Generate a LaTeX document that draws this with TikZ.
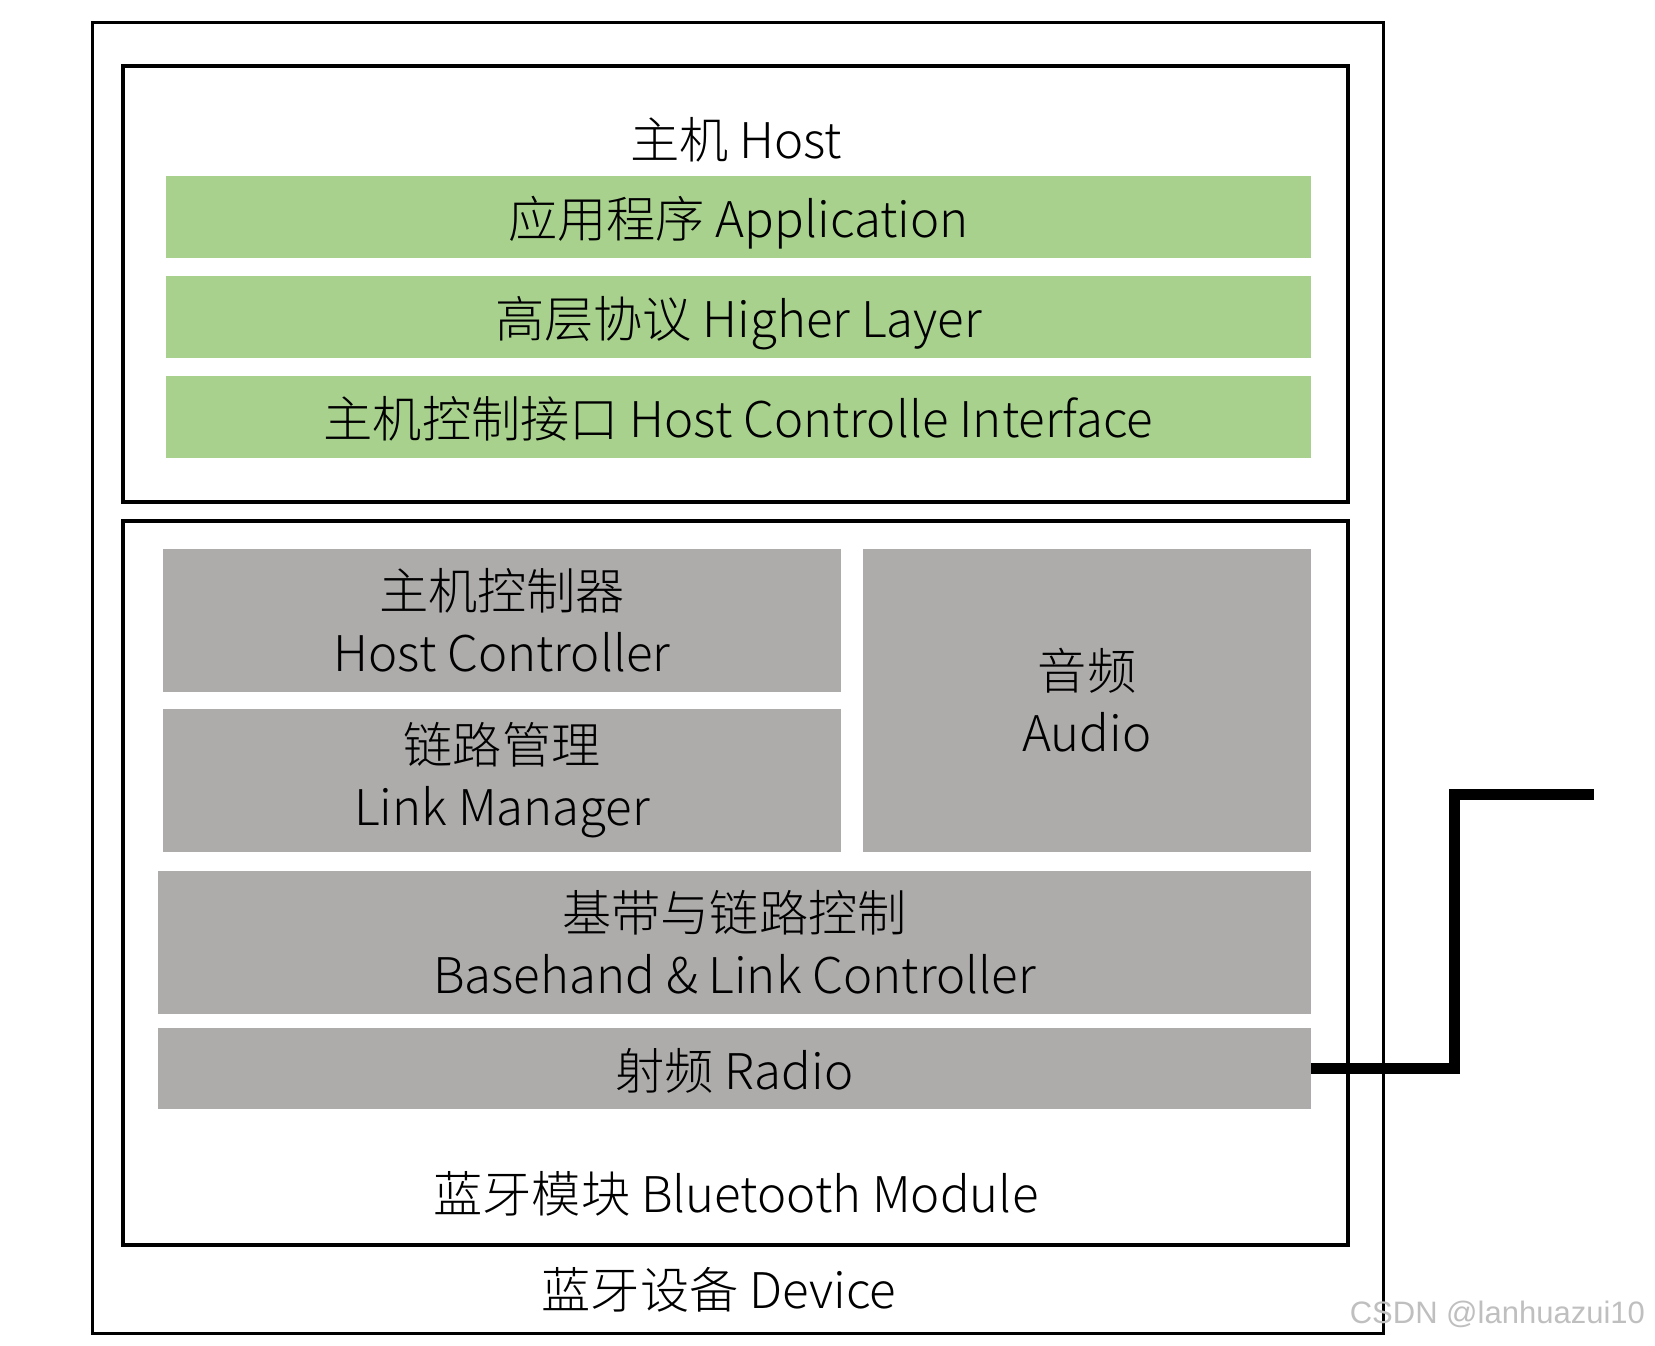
\documentclass[tikz,border=0pt]{standalone}
\usepackage{fontspec}
\setmainfont{Noto Sans CJK SC}[UprightFont=* Light]
\newfontfamily\wmfont{Liberation Sans}
\usepackage{tikz}

\definecolor{hostgreen}{HTML}{A9D18E}
\definecolor{modgray}{HTML}{AEABAB}

\tikzset{
  layer/.style={fill=#1, inner sep=0pt, align=center, font=\fontsize{24.6}{31}\selectfont},
  oneline/.style={text depth=0pt},
  frame/.style={draw, line width=1.6pt},
  lbl/.style={font=\fontsize{24.6}{31}\selectfont},
  antenna/.style={line width=5.5pt, line join=miter}
}

\begin{document}
\begin{tikzpicture}[x=0.5pt,y=-0.5pt]
  \useasboundingbox (0,0) rectangle (1655,1345);
  \draw[line width=1.5pt] (92,22) rectangle (1383,1333);
  \draw[frame] (123,66) rectangle (1348,502);
  \draw[frame] (123,521) rectangle (1348,1245);

  \node[lbl] (host) at (736,140) {主机 Host};
  \node[layer=hostgreen, oneline, minimum width=572.5pt, minimum height=41pt] (app) at (738.5,217) {应用程序 Application};
  \node[layer=hostgreen, oneline, minimum width=572.5pt, minimum height=41pt] (higher) at (738.5,317) {高层协议 Higher Layer};
  \node[layer=hostgreen, oneline, minimum width=572.5pt, minimum height=41pt] (hci) at (738.5,417) {主机控制接口 Host Controlle Interface};

  \node[layer=modgray, minimum width=339pt, minimum height=71.5pt] (hc) at (502,620.5) {主机控制器\\Host Controller};
  \node[layer=modgray, minimum width=339pt, minimum height=71.5pt] (lm) at (502,780) {链路管理\\Link Manager};
  \node[layer=modgray, minimum width=224pt, minimum height=151.5pt] (audio) at (1087,700.5) {音频\\Audio};
  \node[layer=modgray, minimum width=576.5pt, minimum height=71.5pt] (bb) at (734.5,942.5) {基带与链路控制\\Basehand \& Link Controller};
  \node[layer=modgray, oneline, minimum width=576.5pt, minimum height=40.5pt] (radio) at (734.5,1068.5) {射频 Radio};

  \node[lbl] (module) at (736,1194) {蓝牙模块 Bluetooth Module};
  \node[lbl] (device) at (719,1290) {蓝牙设备 Device};

  \coordinate (ant) at (1594,794);
  \draw[antenna] (radio.east) -| (1454,794) -- (ant);

  \node[anchor=east, text=black!25, font=\wmfont\fontsize{15.5}{18}\selectfont] (wm) at (1652,1314) {CSDN @lanhuazui10};
\end{tikzpicture}
\end{document}
